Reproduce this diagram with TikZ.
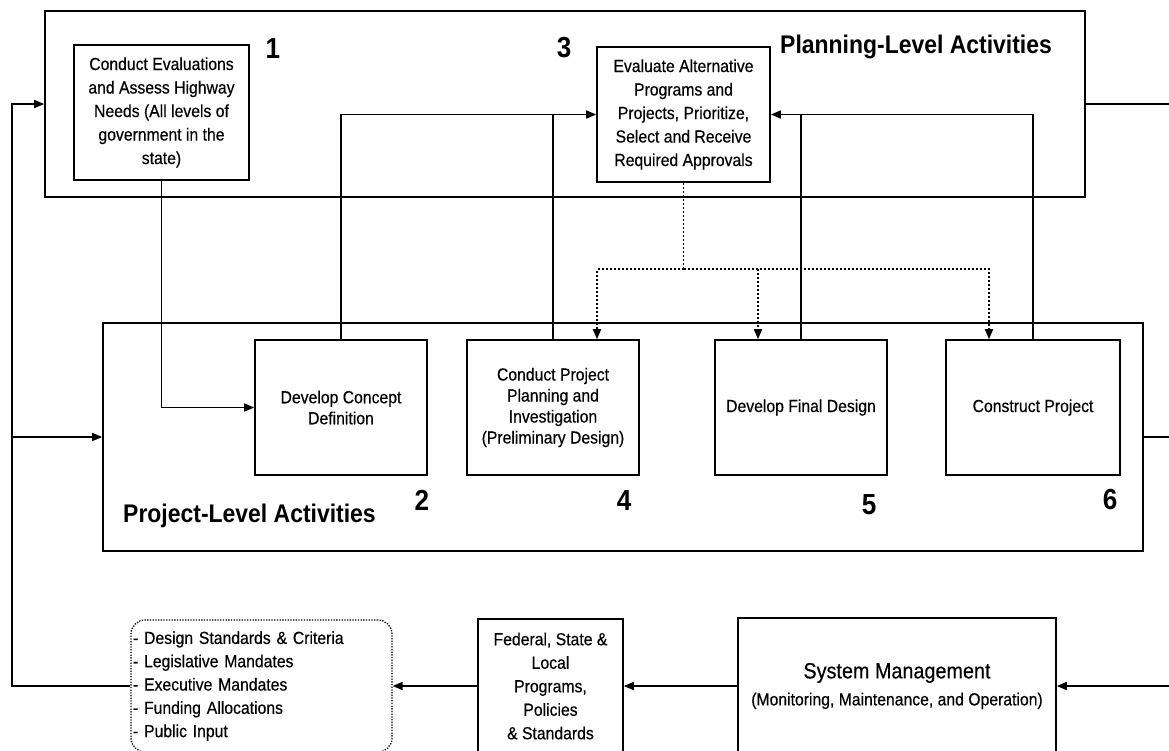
\documentclass[tikz,border=0pt]{standalone}
\usepackage{fontspec}
\setmainfont{Liberation Sans}[FakeStretch=0.9, UprightFeatures={FakeBold=0.4}]
\usetikzlibrary{arrows.meta}
\begin{document}
\begin{tikzpicture}[x=1pt,y=-1pt,
  grp/.style={draw, line width=1.6pt, inner sep=0pt},
  box/.style={draw, line width=1.6pt, inner sep=0pt, align=center, font=\fontsize{17.5}{23.5}\selectfont},
  pbox/.style={box, minimum width=172pt, minimum height=135pt, font=\fontsize{17.5}{21}\selectfont},
  num/.style={font=\fontsize{29}{29}\selectfont\bfseries, anchor=base, inner sep=0pt},
  head/.style={font=\fontsize{25.5}{26}\selectfont\bfseries, anchor=base west, inner sep=0pt},
  conn/.style={line width=1.6pt},
  arr/.style={conn, -{Triangle[length=10pt,width=8pt]}},
  dotc/.style={line width=1.7pt, dash pattern=on 2pt off 2pt},
  dotarr/.style={dotc, -{Triangle[length=10pt,width=8pt]}}]
\useasboundingbox (0,0) rectangle (1169,750);
\fill[white] (0,0) rectangle (1169,750);
\clip (0,0) rectangle (1169,750);

% group frames
\node[grp, minimum width=1040pt, minimum height=186pt] (plan) at (565,104) {};
\node[grp, minimum width=1040pt, minimum height=228pt] (proj) at (623,437) {};

% planning-level boxes
\node[box, minimum width=175pt, minimum height=135pt] (b1) at (161.5,112.5)
  {Conduct Evaluations\\and Assess Highway\\Needs (All levels of\\government in the\\state)};
\node[box, minimum width=173pt, minimum height=135pt] (b3) at (683.5,114.5)
  {Evaluate Alternative\\Programs and\\Projects, Prioritize,\\Select and Receive\\Required Approvals};

% project-level boxes
\node[pbox] (b2) at (341,407.5) {Develop Concept\\Definition};
\node[pbox] (b4) at (553,407.5) {Conduct Project\\Planning and\\Investigation\\(Preliminary Design)};
\node[pbox] (b5) at (801,407.5) {Develop Final Design};
\node[pbox, minimum width=174pt] (b6) at (1033,407.5) {Construct Project};

% labels
\node[num] (n1) at (273,58.5) {1};
\node[num] (n3) at (564,57) {3};
\node[head] (hplan) at (780,53.5) {Planning-Level Activities};
\node[head] (hproj) at (123,522) {Project-Level Activities};
\node[num] (n2) at (422,510) {2};
\node[num] (n4) at (624,510) {4};
\node[num] (n5) at (869,514) {5};
\node[num] (n6) at (1110,509) {6};

% bottom row
\node[draw, line width=1.3pt, dash pattern=on 1.3pt off 1.4pt, rounded corners=14pt,
  minimum width=261pt, minimum height=132pt, inner sep=2pt, text width=257pt,
  align=left, font=\fontsize{17.5}{23.3}\selectfont] (req) at (261.5,686)
  {- Design Standards \& Criteria\\- Legislative Mandates\\- Executive Mandates\\- Funding Allocations\\- Public Input};
\node[box, minimum width=145pt, minimum height=134pt] (fed) at (550.5,686)
  {Federal, State \&\\Local\\Programs,\\Policies\\\& Standards};
\node[box, minimum width=318pt, minimum height=136pt, font=\fontsize{17.5}{27}\selectfont] (sys) at (897,686)
  {{\fontsize{22}{27}\selectfont System Management}\\(Monitoring, Maintenance, and Operation)};

% helper coordinates
\coordinate (lft) at (12,0);
\coordinate (rgt) at (1169,0);
\coordinate (dy) at (0,269);

% feedback loop
\draw[arr] (req.west) -| (lft |- plan.west) -- (plan.west);
\draw[arr] (lft |- proj.west) -- (proj.west);
\draw[conn] (plan.east) -- (rgt |- plan.east);
\draw[conn] (proj.east) -- (rgt |- proj.east);
\draw[arr] (rgt |- sys.east) -- (sys.east);
\draw[arr] (sys.west) -- (fed.east);
\draw[arr] (fed.west) -- (req.east);

% solid connectors
\draw[arr] (b1.south) |- (b2.west);
\draw[arr] (b2.north) |- (b3.west);
\draw[conn] (b4.north) -- (b4.north |- b3.west);
\draw[arr] (b6.north) |- (b3.east);
\draw[conn] (b5.north) -- (b5.north |- b3.east);

% dotted connectors
\draw[dotc] (b3.south) -- (b3.south |- dy);
\draw[dotarr] (b3.south |- dy) -| ([xshift=44pt]b4.north);
\draw[dotarr] (b3.south |- dy) -| ([xshift=-44pt]b6.north);
\draw[dotarr] ([xshift=-43pt]b5.north |- dy) -- ([xshift=-43pt]b5.north);
\end{tikzpicture}
\end{document}
